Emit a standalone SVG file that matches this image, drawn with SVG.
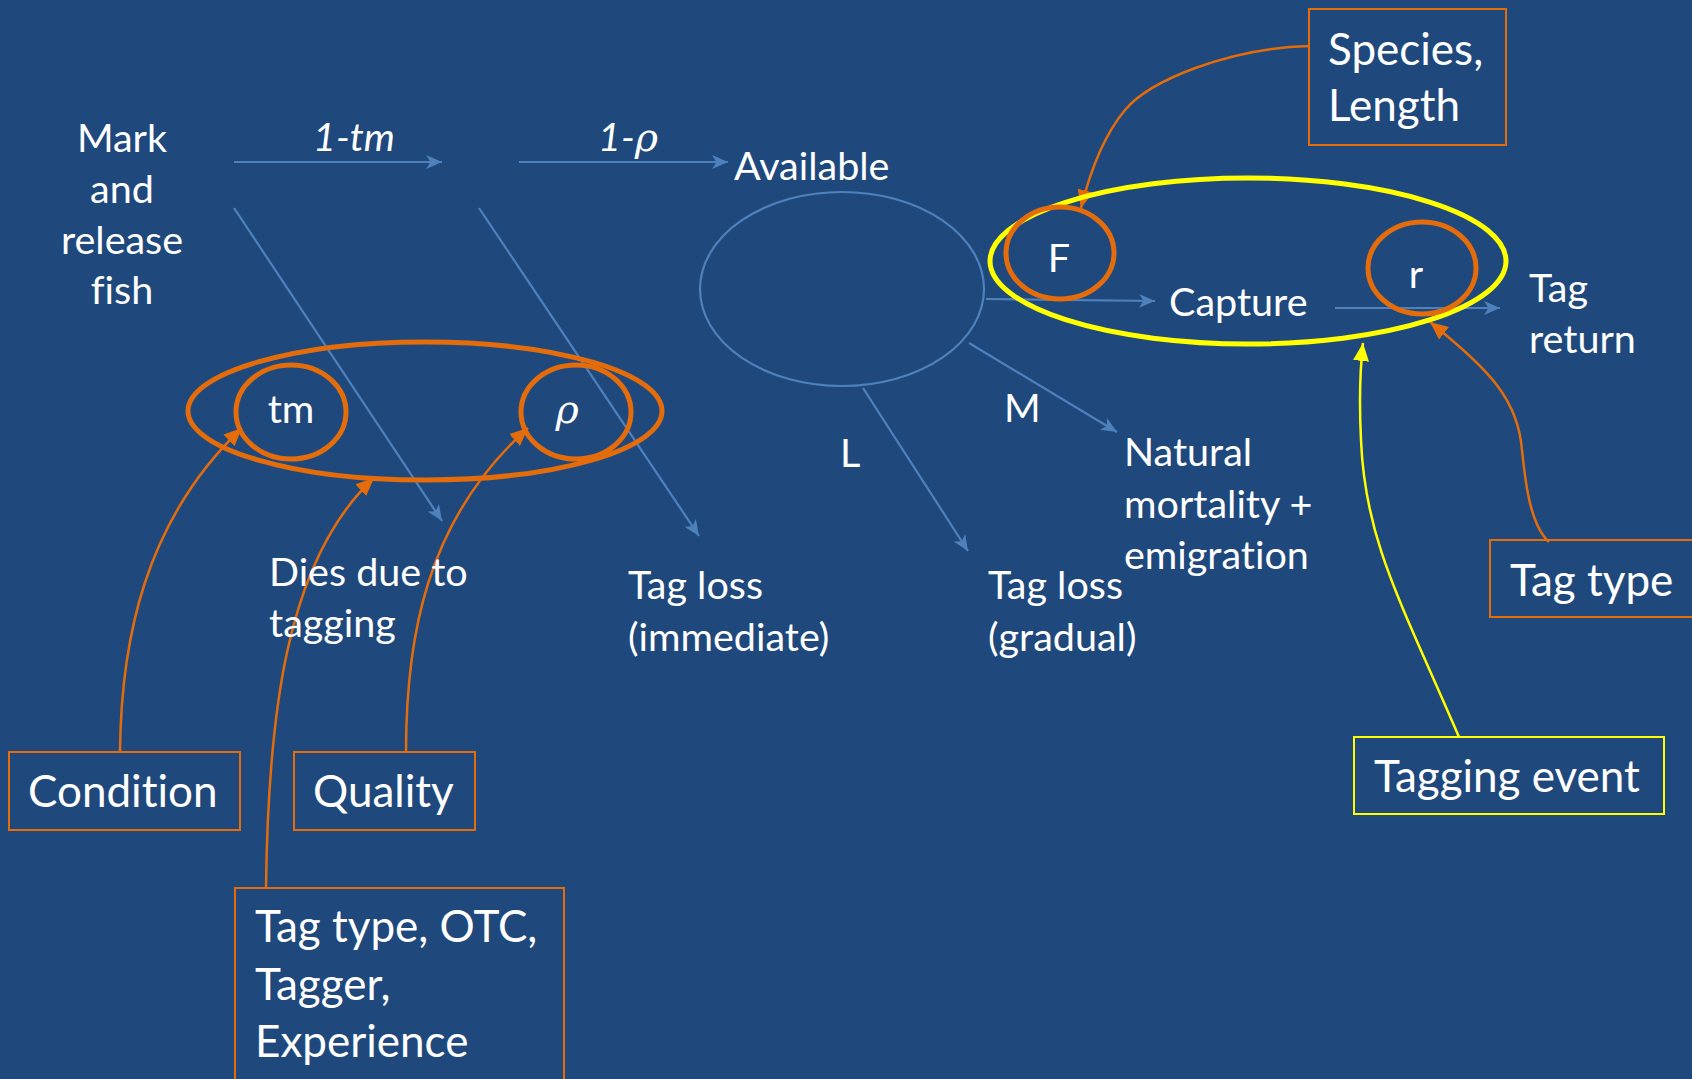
<svg xmlns="http://www.w3.org/2000/svg" width="1692" height="1079" viewBox="0 0 1692 1079">
<style>
.t{font-family:Lato,"Open Sans",sans-serif;font-size:39.5px;fill:#ffffff;font-variant-ligatures:none}
.b{font-family:Lato,"Open Sans",sans-serif;font-size:44px;fill:#ffffff;font-variant-ligatures:none}
.i{font-style:italic}
.rho{font-family:"DejaVu Serif","Liberation Serif",serif;font-style:italic}
.bl{stroke:#4F81BD;stroke-width:2.2;fill:none}
.or{stroke:#E46C0A;fill:none}
.ye{stroke:#FFFF00;fill:none}
.box{fill:none;stroke:#E46C0A;stroke-width:2}
</style>
<defs>
<marker id="ab" markerUnits="userSpaceOnUse" markerWidth="18" markerHeight="15" refX="15" refY="6.5" orient="auto" viewBox="0 0 17 13">
<path d="M0,0 L15,6.5 L0,13 L4,6.5 z" fill="#4F81BD"/>
</marker>
<marker id="ao" markerUnits="userSpaceOnUse" markerWidth="20" markerHeight="18" refX="18" refY="8" orient="auto" viewBox="0 0 20 16">
<path d="M0,0 L18,8 L0,16 z" fill="#E46C0A"/>
</marker>
<marker id="ay" markerUnits="userSpaceOnUse" markerWidth="20" markerHeight="18" refX="18" refY="8" orient="auto" viewBox="0 0 20 16">
<path d="M0,0 L18,8 L0,16 z" fill="#FFFF00"/>
</marker>
</defs>
<rect x="0" y="0" width="1692" height="1079" fill="#1F497D"/>

<g id="connectors">
<line class="bl" x1="234" y1="162" x2="442" y2="162" marker-end="url(#ab)"/>
<line class="bl" x1="519" y1="162" x2="728" y2="162" marker-end="url(#ab)"/>
<line class="bl" x1="234" y1="208" x2="442" y2="521" marker-end="url(#ab)"/>
<line class="bl" x1="479" y1="208" x2="699" y2="536" marker-end="url(#ab)"/>
<line class="bl" x1="986" y1="299" x2="1155" y2="301" marker-end="url(#ab)"/>
<line class="bl" x1="1335" y1="308" x2="1500" y2="308" marker-end="url(#ab)"/>
<line class="bl" x1="969" y1="343" x2="1117" y2="432" marker-end="url(#ab)"/>
<line class="bl" x1="863" y1="388" x2="968" y2="551" marker-end="url(#ab)"/>
<path class="or" stroke-width="2.5" d="M120,752 C121,640 145,520 242,428" marker-end="url(#ao)"/>
<path class="or" stroke-width="2.5" d="M406,752 C406,640 425,520 528,428" marker-end="url(#ao)"/>
<path class="or" stroke-width="2.5" d="M266,888 C268,720 285,560 374,478" marker-end="url(#ao)"/>
<path class="or" stroke-width="2.5" d="M1309,46 C1230,48 1150,80 1125,110 C1100,140 1088,180 1081,208" marker-end="url(#ao)"/>
<path class="or" stroke-width="2.5" d="M1549,542 C1530,525 1525,480 1522,450 C1518,400 1490,370 1430,322" marker-end="url(#ao)"/>
<path class="ye" stroke-width="2.5" d="M1459,737 C1400,600 1365,540 1361,440 C1359,400 1360,370 1363,343" marker-end="url(#ay)"/>
</g>

<g id="mark">
<text class="t" x="122" y="152" text-anchor="middle">Mark</text>
<text class="t" x="122" y="203" text-anchor="middle">and</text>
<text class="t" x="122" y="254" text-anchor="middle">release</text>
<text class="t" x="122" y="304" text-anchor="middle">fish</text>
</g>
<g id="label-1tm"><text class="t i" x="354" y="151" text-anchor="middle">1-tm</text></g>
<g id="label-1rho"><text class="t i" x="628" y="151" text-anchor="middle">1-<tspan class="rho">ρ</tspan></text></g>
<g id="available">
<text class="t" x="734" y="180">Available</text>
<ellipse class="bl" cx="842" cy="289" rx="142" ry="97"/>
</g>
<g id="capture"><text class="t" x="1169" y="316">Capture</text></g>
<g id="tag-return">
<text class="t" x="1529" y="302">Tag</text>
<text class="t" x="1529" y="353">return</text>
</g>
<g id="label-M"><text class="t" x="1004" y="422">M</text></g>
<g id="label-L"><text class="t" x="840" y="467">L</text></g>
<g id="natural">
<text class="t" x="1124" y="466">Natural</text>
<text class="t" x="1124" y="518">mortality +</text>
<text class="t" x="1124" y="569">emigration</text>
</g>
<g id="tagloss-gradual">
<text class="t" x="988" y="599">Tag loss</text>
<text class="t" x="988" y="651">(gradual)</text>
</g>
<g id="tagloss-immediate">
<text class="t" x="628" y="599">Tag loss</text>
<text class="t" x="628" y="651">(immediate)</text>
</g>
<g id="dies">
<text class="t" x="269" y="586">Dies due to</text>
<text class="t" x="269" y="637">tagging</text>
</g>

<g id="group-tm-rho">
<ellipse class="or" stroke-width="5" cx="425" cy="411" rx="237" ry="69"/>
</g>
<g id="tm">
<ellipse class="or" stroke-width="5" cx="291" cy="412" rx="55" ry="47"/>
<text class="t" x="291" y="423" text-anchor="middle">tm</text>
</g>
<g id="rho">
<ellipse class="or" stroke-width="5" cx="576" cy="412" rx="55" ry="47"/>
<text class="t rho" x="567" y="423" text-anchor="middle">ρ</text>
</g>

<g id="group-F-r">
<ellipse class="ye" stroke-width="5" cx="1248" cy="261" rx="258" ry="83"/>
</g>
<g id="F">
<ellipse class="or" stroke-width="5" cx="1060" cy="253" rx="54" ry="46"/>
<text class="t" x="1059" y="272" text-anchor="middle">F</text>
</g>
<g id="r">
<ellipse class="or" stroke-width="5" cx="1422" cy="268" rx="54" ry="46"/>
<text class="t" x="1416" y="288" text-anchor="middle">r</text>
</g>

<g id="species-length">
<rect class="box" x="1309" y="9" width="197" height="136"/>
<text class="b" x="1328" y="65">Species,</text>
<text class="b" x="1328" y="121">Length</text>
</g>
<g id="tag-type">
<rect class="box" x="1490" y="540" width="210" height="77"/>
<text class="b" x="1510" y="596">Tag type</text>
</g>
<g id="tagging-event">
<rect x="1354" y="737" width="310" height="77" fill="none" stroke="#FFFF00" stroke-width="2"/>
<text class="b" x="1374" y="792">Tagging event</text>
</g>
<g id="condition">
<rect class="box" x="9" y="752" width="231" height="78"/>
<text class="b" x="28" y="807">Condition</text>
</g>
<g id="quality">
<rect class="box" x="294" y="752" width="181" height="78"/>
<text class="b" x="313" y="807">Quality</text>
</g>
<g id="tagtype-otc">
<rect class="box" x="235" y="888" width="329" height="200"/>
<text class="b" x="255" y="942">Tag type, OTC,</text>
<text class="b" x="255" y="1000">Tagger,</text>
<text class="b" x="255" y="1057">Experience</text>
</g>
</svg>
